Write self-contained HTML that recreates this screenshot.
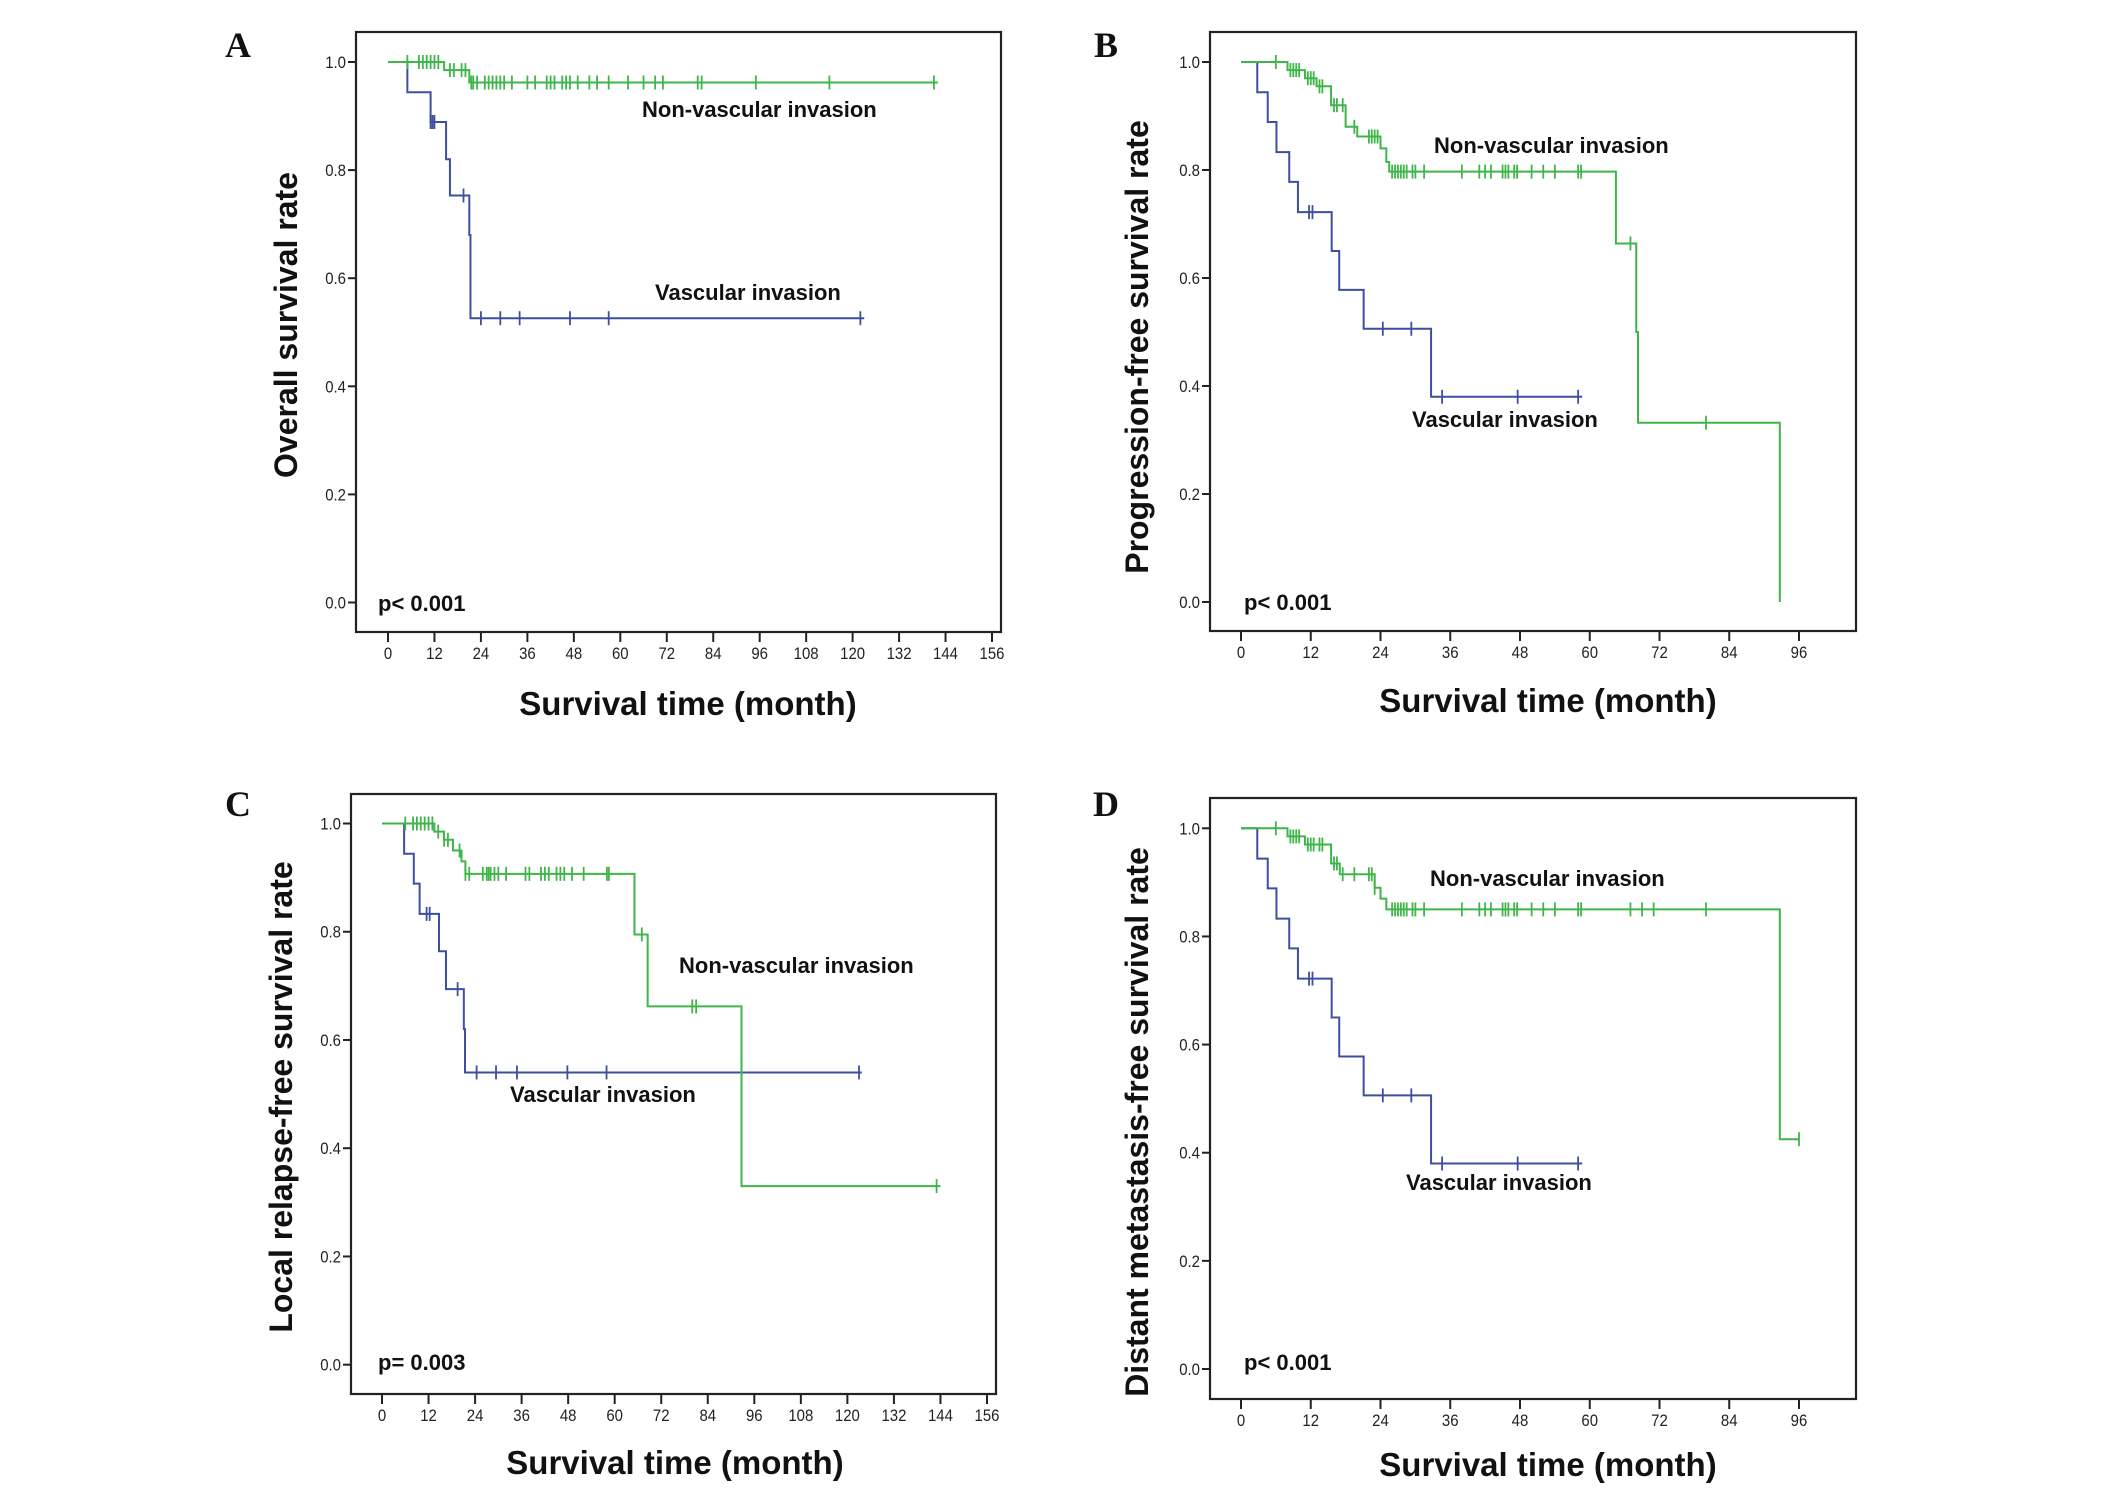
<!DOCTYPE html>
<html><head><meta charset="utf-8"><style>
html,body{margin:0;padding:0;background:#fff;}
svg text{font-family:"Liberation Sans",Arial,sans-serif;}
</style></head><body>
<svg id="fig" width="2126" height="1485" viewBox="0 0 2126 1485" xmlns="http://www.w3.org/2000/svg"></svg>
<script>
// ---- Data (months, survival) ----
const yTicks = [0.0, 0.2, 0.4, 0.6, 0.8, 1.0];
const xTicksLong = [0,12,24,36,48,60,72,84,96,108,120,132,144,156];
const xTicksShort = [0,12,24,36,48,60,72,84,96];

// Panel A
const aVascTimes = [5,11,15,16,21,21.3];
const aVascVals  = [0.944,0.889,0.82,0.753,0.68,0.526];
const aVascCens  = [11,11.5,12,19.5,24,29,34,47,57,122];
const aVascEnd = 123;
const aNonTimes = [14.5,21];
const aNonVals  = [0.985,0.962];
const aNonCens  = [5,8,9,10,11,12,13,16,17,19,20,21.5,22,23,25,26,27,28,29,30,32,36,38,41,42,43,45,46,47,49,52,54,57,62,66,69,71,80,81,95,114,141];
const aNonEnd = 142;

// Panel B
const bVascTimes = [2.8,4.6,6.1,8.3,9.8,15.6,16.9,21.1,32.7];
const bVascVals  = [0.944,0.889,0.833,0.778,0.722,0.65,0.578,0.506,0.38];
const bVascCens  = [11.7,12.3,24.4,29.3,34.6,47.6,58];
const bVascEnd = 58.7;
const bNonTimes = [8,11,13,15.5,18,20,24,25,25.5,64.5,68,68.3,92.7];
const bNonVals  = [0.985,0.97,0.955,0.92,0.88,0.862,0.84,0.815,0.797,0.664,0.5,0.332,0.0];
const bNonCens  = [6,8.5,9,9.5,10,11.5,12,12.5,13.5,14,16,16.5,17.5,19.5,22,22.5,23,23.5,26,26.5,27,27.5,28,28.5,29.5,30,31.5,38,41,42,43,45,45.5,46,47,47.5,50,52,54,58,58.5,67,80];
const bNonEnd = 92.7;

// Panel C
const cVascTimes = [5.7,8.2,9.7,14.7,16.5,21.1,21.4];
const cVascVals  = [0.944,0.889,0.833,0.764,0.694,0.62,0.54];
const cVascCens  = [11.5,12.3,19.5,24.4,29.4,34.8,47.8,57.9,123];
const cVascEnd = 123.7;
const cNonTimes = [13.5,16,18.3,20.5,21.5,65.1,68.5,92.7];
const cNonVals  = [0.985,0.97,0.95,0.93,0.907,0.795,0.662,0.33];
const cNonCens  = [6,8,9,10,11,12,13,14.5,16,17,20,21.5,22.5,26,27,27.5,28,29,30,32,37,38,41,42,43,45,46,47,49,52,58,58.5,67,80,81,143];
const cNonEnd = 144;

// Panel D
const dVascTimes = [2.8,4.6,6.1,8.3,9.8,15.6,16.9,21.1,32.7];
const dVascVals  = [0.944,0.889,0.833,0.778,0.722,0.65,0.578,0.506,0.38];
const dVascCens  = [11.7,12.3,24.4,29.3,34.6,47.6,58];
const dVascEnd = 58.7;
const dNonTimes = [8,11,15.5,17,23,24,25,92.7];
const dNonVals  = [0.985,0.97,0.935,0.915,0.89,0.87,0.85,0.425];
const dNonCens  = [6,8.5,9,9.5,10,11.5,12,12.5,13.5,14,16,16.5,17.5,19.5,22,22.5,23,26,26.5,27,27.5,28,28.5,29.5,30,31.5,38,41,42,43,45,45.5,46,47,47.5,50,52,54,58,58.5,67,69,71,80,96];
const dNonEnd = 96;

const GREEN = "#3fb54a", BLUE = "#3d4f9f";
const NS = "http://www.w3.org/2000/svg";
const svg = document.getElementById("fig");

function mk(tag, attrs, parent){
  const e = document.createElementNS(NS, tag);
  for (const k in attrs) e.setAttribute(k, attrs[k]);
  (parent||svg).appendChild(e);
  return e;
}

function stepVal(times, vals, t){
  let v = 1.0;
  for (let i=0;i<times.length;i++){ if (times[i] <= t) v = vals[i]; }
  return v;
}

function drawPanel(p){
  const g = mk("g", {});
  
  
  const sx = t => p.x0 + (t/ p.xmaxTick) * (p.xEnd - p.x0);
  const sy = v => p.y0 + v * (p.y1 - p.y0);
  const fr = mk("rect", {x:p.left, y:p.top, width:p.right-p.left, height:p.bottom-p.top, fill:"none", stroke:"#222", "stroke-width":2.2}, g);
  
  
  yTicks.forEach(v=>{
    const y = sy(v);
    const l = mk("line", {x1:p.left-8, x2:p.left, y1:y, y2:y, stroke:"#222", "stroke-width":2}, g);
    
    
    const t = mk("text", {x:p.left-10, y:y+6, "font-size":17, "text-anchor":"end", fill:"#222", transform:`translate(${p.left-10},0) scale(0.88,1) translate(${-(p.left-10)},0)`}, g);
    t.textContent = v.toFixed(1);
    
    
  });
  p.xticks.forEach(v=>{
    const x = sx(v);
    const l = mk("line", {x1:x, x2:x, y1:p.bottom, y2:p.bottom+10, stroke:"#222", "stroke-width":2}, g);
    
    
    const t = mk("text", {x:x, y:p.bottom+27, "font-size":17, "text-anchor":"middle", fill:"#222", transform:`translate(${x},0) scale(0.88,1) translate(${-x},0)`}, g);
    t.textContent = v;
    
    
  });
  p.series.forEach(s=>{
    let d = `M${sx(0)},${sy(1)}`;
    s.times.forEach((t,i)=>{ d += ` H${sx(t)} V${sy(s.vals[i])}`; });
    d += ` H${sx(s.end)}`;
    const path = mk("path", {d, fill:"none", stroke:s.color, "stroke-width":2}, g);
    
    
    s.cens.forEach(c=>{
      const cy = sy(stepVal(s.times, s.vals, c));
      const m = mk("line", {x1:sx(c), x2:sx(c), y1:cy-7, y2:cy+7, stroke:s.color, "stroke-width":1.8}, g);
      
      
    });
  });
  const texts = [
    [p.letter, p.letterX, p.letterY, 36, "panel-letter", 'font-family:"Liberation Serif",serif;font-weight:bold;', "middle"],
    ["Non-vascular invasion", p.nonX, p.nonY, 22, "non-vascular-label", "font-weight:bold;", "start"],
    ["Vascular invasion", p.vascX, p.vascY, 22, "vascular-label", "font-weight:bold;", "start"],
    [p.pText, p.pX, p.pY, 22, "p-value", "font-weight:bold;", "start"],
    ["Survival time (month)", p.xtX, p.xtY, 33, "x-axis-title", "font-weight:bold;", "middle"]
  ];
  texts.forEach(tt=>{
    const t = mk("text", {x:tt[1], y:tt[2], "font-size":tt[3], "text-anchor":tt[6], fill:"#111", style:tt[5]}, g);
    t.textContent = tt[0];
    
    
  });
  const yt = mk("text", {x:0, y:0, "font-size":32, "text-anchor":"middle", fill:"#111", style:"font-weight:bold;", transform:`translate(${p.ytX},${p.ytY}) rotate(-90)`}, g);
  yt.textContent = p.yTitle;
  
  
}

drawPanel({id:"a", letter:"A", left:356, right:1001, top:32, bottom:632, x0:388, xEnd:992, xmaxTick:156, y0:602.5, y1:62, xticks:xTicksLong,
  series:[{name:"vascular",color:BLUE,times:aVascTimes,vals:aVascVals,cens:aVascCens,end:aVascEnd},
          {name:"non-vascular",color:GREEN,times:aNonTimes,vals:aNonVals,cens:aNonCens,end:aNonEnd}],
  letterX:238, letterY:57, nonX:642, nonY:117, vascX:655, vascY:300, pText:"p< 0.001", pX:378, pY:611,
  xtX:688, xtY:715, ytX:297, ytY:325, yTitle:"Overall survival rate"});
drawPanel({id:"b", letter:"B", left:1210, right:1856, top:32, bottom:631, x0:1241, xEnd:1799, xmaxTick:96, y0:602, y1:62, xticks:xTicksShort,
  series:[{name:"vascular",color:BLUE,times:bVascTimes,vals:bVascVals,cens:bVascCens,end:bVascEnd},
          {name:"non-vascular",color:GREEN,times:bNonTimes,vals:bNonVals,cens:bNonCens,end:bNonEnd}],
  letterX:1106, letterY:57, nonX:1434, nonY:153, vascX:1412, vascY:427, pText:"p< 0.001", pX:1244, pY:610,
  xtX:1548, xtY:712, ytX:1148, ytY:347, yTitle:"Progression-free survival rate"});
drawPanel({id:"c", letter:"C", left:351, right:996, top:794, bottom:1394, x0:382, xEnd:987, xmaxTick:156, y0:1364.7, y1:823.5, xticks:xTicksLong,
  series:[{name:"vascular",color:BLUE,times:cVascTimes,vals:cVascVals,cens:cVascCens,end:cVascEnd},
          {name:"non-vascular",color:GREEN,times:cNonTimes,vals:cNonVals,cens:cNonCens,end:cNonEnd}],
  letterX:238, letterY:816, nonX:679, nonY:973, vascX:510, vascY:1102, pText:"p= 0.003", pX:378, pY:1370,
  xtX:675, xtY:1474, ytX:292, ytY:1097, yTitle:"Local relapse-free survival rate"});
drawPanel({id:"d", letter:"D", left:1210, right:1856, top:798, bottom:1399, x0:1241, xEnd:1799, xmaxTick:96, y0:1369, y1:828.3, xticks:xTicksShort,
  series:[{name:"vascular",color:BLUE,times:dVascTimes,vals:dVascVals,cens:dVascCens,end:dVascEnd},
          {name:"non-vascular",color:GREEN,times:dNonTimes,vals:dNonVals,cens:dNonCens,end:dNonEnd}],
  letterX:1106, letterY:816, nonX:1430, nonY:886, vascX:1406, vascY:1190, pText:"p< 0.001", pX:1244, pY:1370,
  xtX:1548, xtY:1476, ytX:1148, ytY:1122, yTitle:"Distant metastasis-free survival rate"});
</script>
</body></html>
